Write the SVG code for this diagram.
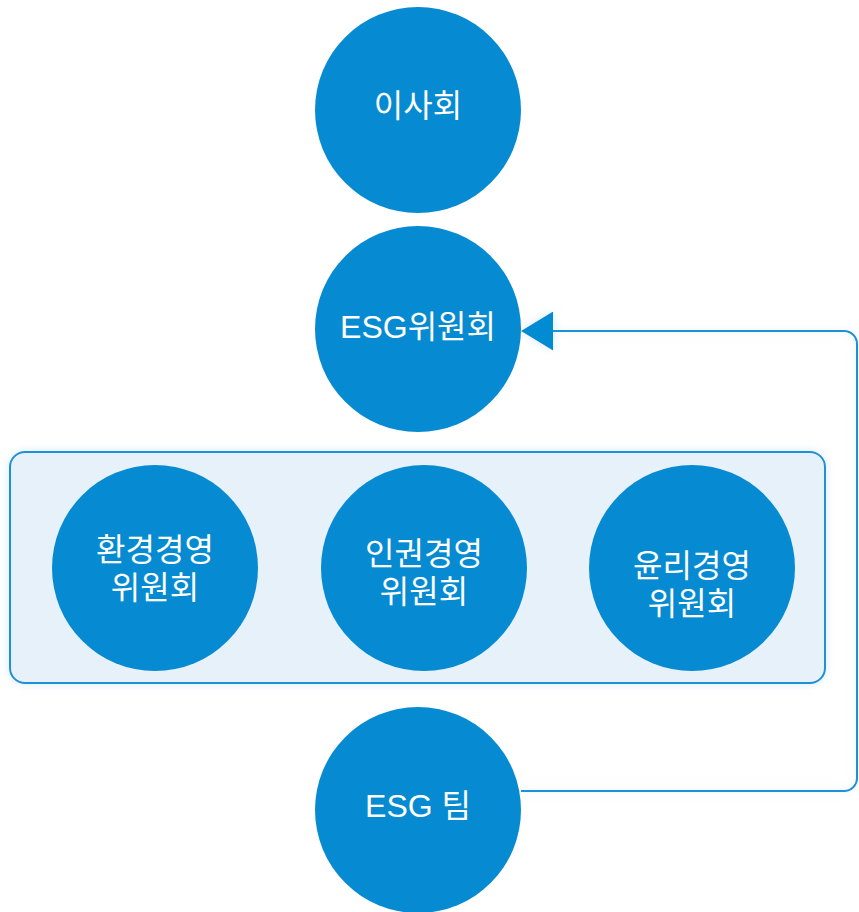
<svg xmlns="http://www.w3.org/2000/svg" width="859" height="912" viewBox="0 0 859 912">
  <defs>
    <style>
      .node circle { fill: #068bd2; }
      .node text { fill: #ffffff; font-family: "Liberation Sans", "Noto Sans CJK KR", sans-serif; font-size: 32px; text-anchor: middle; }
      .panel { fill: #e7f1fa; stroke: #1a90d8; stroke-width: 2; }
      .conn { fill: none; stroke: #1a90d8; stroke-width: 2; }
    </style>
    <filter id="glow" x="-10%" y="-10%" width="120%" height="120%">
      <feGaussianBlur in="SourceAlpha" stdDeviation="5" result="b"/>
      <feFlood flood-color="#b9dcf4" flood-opacity="0.55"/>
      <feComposite in2="b" operator="in" result="g"/>
      <feMerge>
        <feMergeNode in="g"/>
        <feMergeNode in="SourceGraphic"/>
      </feMerge>
    </filter>
    <marker id="arrow" viewBox="0 0 32 39" refX="0" refY="19.5" markerWidth="32" markerHeight="39" markerUnits="userSpaceOnUse" orient="auto">
      <path d="M0,0 L32,19.5 L0,39 Z" fill="#068bd2"/>
    </marker>
  </defs>

  <g id="connectors">
    <path class="conn" filter="url(#glow)" d="M 521 791 H 844 A 13 13 0 0 0 857 778 V 344 A 13 13 0 0 0 844 331 H 553" marker-end="url(#arrow)"/>
  </g>

  <g id="panel">
    <rect class="panel" filter="url(#glow)" x="10" y="452" width="815" height="231" rx="15" ry="15"/>
  </g>

  <g id="node-board" class="node">
    <circle cx="418" cy="110" r="103"/>
    <text x="418" y="117">이사회</text>
  </g>

  <g id="node-esg-committee" class="node">
    <circle cx="418" cy="329" r="103"/>
    <text x="418" y="338">ESG위원회</text>
  </g>

  <g id="node-env" class="node">
    <circle cx="155" cy="568" r="103"/>
    <text x="155" y="561">환경경영</text>
    <text x="155" y="599">위원회</text>
  </g>

  <g id="node-human" class="node">
    <circle cx="424" cy="568" r="103"/>
    <text x="424" y="565">인권경영</text>
    <text x="424" y="603">위원회</text>
  </g>

  <g id="node-ethics" class="node">
    <circle cx="692" cy="568" r="103"/>
    <text x="692" y="577">윤리경영</text>
    <text x="692" y="615">위원회</text>
  </g>

  <g id="node-esg-team" class="node">
    <circle cx="418" cy="810" r="103"/>
    <text x="418" y="817">ESG 팀</text>
  </g>
</svg>
